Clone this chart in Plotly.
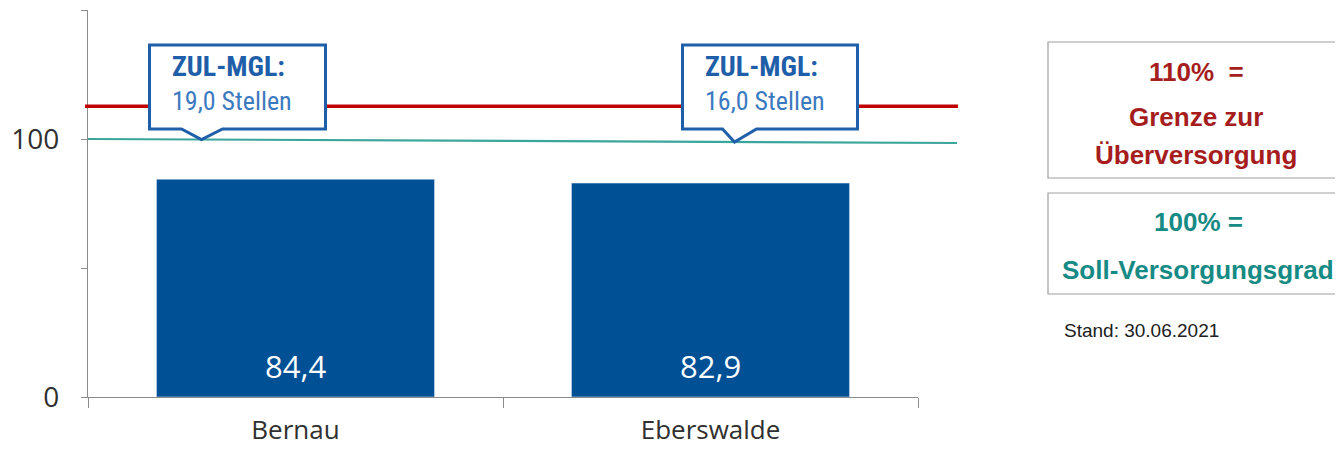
import plotly.graph_objects as go

# ---- data ----
regions = ["Bernau", "Eberswalde"]
versorgungsgrad = [84.4, 82.9]
bar_labels = ["84,4", "82,9"]
callout_titles = ["ZUL-MGL:", "ZUL-MGL:"]
callout_texts = ["19,0 Stellen", "16,0 Stellen"]
grenze_line = [112.7, 112.7]      # red line (110% Grenze zur Überversorgung)
soll_line = [100.0, 98.45]        # teal line (100% Soll-Versorgungsgrad)
y_ticks = [0, 100]
y_ticklabels = ["0", "100"]
legend_red = ["110%  =", "Grenze zur", "Überversorgung"]
legend_teal = ["100% =", "Soll-Versorgungsgrad"]
stand_text = "Stand: 30.06.2021"

# ---- layout constants (page body has an 8px margin) ----
OFF = 8
W, H = 1343 - OFF, 450 - OFF
ML, MT = 88 - OFF, 10 - OFF
PW, PH = 830, 387
MR = W - ML - PW
MB = H - MT - PH

BAR = "#005096"
BLUE = "#1f5ea8"
BLUE_L = "#3b7ac0"
RED_LINE = "#c00000"
TEAL_LINE = "#3aa59b"
RED_TXT = "#a51d1d"
TEAL_TXT = "#168a84"
GREY = "#8c8c8c"
X0_SCREEN, Y0_SCREEN = 88, 397

# callout geometry, pixel offsets relative to the bar centre: box left, box right, notch left, tip, notch right
CALLOUT_GEOM = [(-146, 30, -114, -94, -73), (-28, 147, 12, 24, 46)]


def px_x(p):
    return (p - X0_SCREEN) / PW


def px_y(p):
    return (Y0_SCREEN - p) / PH


x_idx = list(range(len(regions)))

fig = go.Figure()
fig.add_trace(go.Bar(
    x=x_idx, y=versorgungsgrad, marker_color=BAR, width=0.67,
    hoverinfo="skip", showlegend=False,
))

shapes = []
annotations = []

# bar value labels (white, near bar bottom)
for xi, lab in zip(x_idx, bar_labels):
    annotations.append(dict(xref="x", yref="y", x=xi, y=0, text=lab, showarrow=False,
                            yanchor="bottom", xanchor="center", yshift=8,
                            font=dict(family="Open Sans, sans-serif", size=31, color="white")))

# reference lines (extend beyond the plot area to the right)
shapes.append(dict(type="line", xref="paper", yref="y", x0=px_x(85), x1=px_x(958),
                   y0=grenze_line[0], y1=grenze_line[1], line=dict(color=RED_LINE, width=3.5), layer="above"))
shapes.append(dict(type="line", xref="paper", yref="y", x0=0, x1=px_x(957),
                   y0=soll_line[0], y1=soll_line[1], line=dict(color=TEAL_LINE, width=2.2), layer="above"))

# callouts
cat_px = PW / 2.0           # pixels per category unit
val_px = PH / 150.0         # pixels per value unit
for i, (t1, t2) in enumerate(zip(callout_titles, callout_texts)):
    bl, br, nl, tp, nr = CALLOUT_GEOM[i]
    tip_x = i + tp / cat_px
    frac = (tip_x + 0.5) / (px_x(957) * 2)
    tip_y = soll_line[0] + (soll_line[1] - soll_line[0]) * frac
    bx0 = i + bl / cat_px
    bx1 = i + br / cat_px
    by0 = 100 + 10 / val_px
    by1 = 100 + 94 / val_px
    nx0 = i + nl / cat_px
    nx1 = i + nr / cat_px
    path = (f"M {bx0},{by1} L {bx1},{by1} L {bx1},{by0} L {nx1},{by0} "
            f"L {tip_x},{tip_y} L {nx0},{by0} L {bx0},{by0} Z")
    shapes.append(dict(type="path", xref="x", yref="y", path=path,
                       line=dict(color=BLUE, width=3), fillcolor="white", layer="above"))
    annotations.append(dict(xref="x", yref="y", x=bx0 + 20 / cat_px, y=100 + 73 / val_px,
                            text=f"<b>{t1}</b>", showarrow=False, xanchor="left", yanchor="middle",
                            font=dict(family="Liberation Sans Narrow, Roboto Condensed, Liberation Sans, sans-serif",
                                      size=28, color=BLUE)))
    annotations.append(dict(xref="x", yref="y", x=bx0 + 20 / cat_px, y=100 + 38 / val_px,
                            text=t2, showarrow=False, xanchor="left", yanchor="middle",
                            font=dict(family="Liberation Sans Narrow, Roboto Condensed, Liberation Sans, sans-serif",
                                      size=26, color=BLUE_L)))

# legend boxes on the right
shapes.append(dict(type="rect", xref="paper", yref="paper",
                   x0=px_x(1048), x1=px_x(1352), y0=px_y(178), y1=px_y(42),
                   line=dict(color="#a0a0a0", width=1.2), fillcolor="white"))
shapes.append(dict(type="rect", xref="paper", yref="paper",
                   x0=px_x(1048), x1=px_x(1352), y0=px_y(294), y1=px_y(193),
                   line=dict(color="#a0a0a0", width=1.2), fillcolor="white"))
for txt, yy in zip(legend_red, [72, 117, 155]):
    annotations.append(dict(xref="paper", yref="paper", x=px_x(1196), y=px_y(yy), text=f"<b>{txt}</b>",
                            showarrow=False, xanchor="center", yanchor="middle",
                            font=dict(family="Liberation Sans, Arial, sans-serif", size=26, color=RED_TXT)))
for txt, yy in zip(legend_teal, [222, 270]):
    annotations.append(dict(xref="paper", yref="paper", x=px_x(1198), y=px_y(yy), text=f"<b>{txt}</b>",
                            showarrow=False, xanchor="center", yanchor="middle",
                            font=dict(family="Liberation Sans, Arial, sans-serif", size=26, color=TEAL_TXT)))
annotations.append(dict(xref="paper", yref="paper", x=px_x(1062), y=px_y(330), text=stand_text,
                        showarrow=False, xanchor="left", yanchor="middle",
                        font=dict(family="Liberation Sans Narrow, Liberation Sans, sans-serif", size=19, color="#202020")))

fig.update_layout(
    width=W, height=H, margin=dict(l=ML, r=MR, t=MT, b=MB, autoexpand=False),
    paper_bgcolor="white", plot_bgcolor="white",
    shapes=shapes, annotations=annotations, showlegend=False,
    xaxis=dict(range=[-0.5, 1.5], tickvals=x_idx, ticktext=regions, ticks="", automargin=False,
               showline=True, linecolor=GREY, linewidth=1.3, showgrid=False, zeroline=False,
               ticklabelstandoff=10,
               tickfont=dict(family="Open Sans, sans-serif", size=26, color="#303030"),
               minor=dict(tick0=-0.5, dtick=1, ticks="outside", ticklen=10, tickcolor=GREY, tickwidth=1.3,
                          showgrid=False)),
    yaxis=dict(range=[0, 150], tickvals=y_ticks, ticktext=y_ticklabels, ticks="outside", ticklen=6,
               tickcolor=GREY, tickwidth=1.3, showline=True, linecolor=GREY, linewidth=1.3,
               showgrid=False, zeroline=False, automargin=False, ticklabelstandoff=16,
               tickfont=dict(family="Open Sans, sans-serif", size=28, color="#303030"),
               minor=dict(tick0=0, dtick=50, ticks="outside", ticklen=6, tickcolor=GREY, tickwidth=1.3,
                          showgrid=False)),
)

fig.write_html("out.html")
